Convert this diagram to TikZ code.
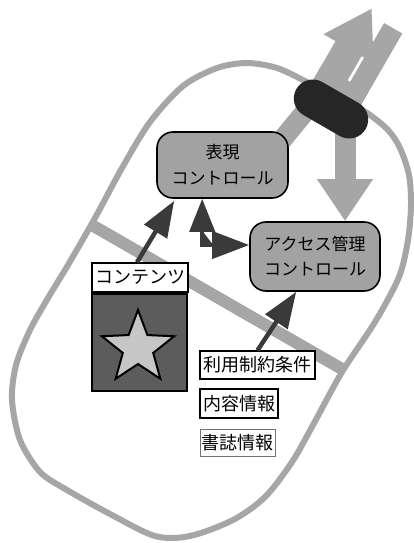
\documentclass[tikz,border=0pt]{standalone}
\usepackage{fontspec}
\newfontfamily\jp{Noto Sans CJK JP}
\usetikzlibrary{arrows.meta,shapes.misc,calc}
\pgfdeclarelayer{bg}
\pgfsetlayers{bg,main}
\definecolor{bandgray}{HTML}{A6A6A6}
\definecolor{nodegray}{HTML}{A2A2A2}
\definecolor{darkarrow}{HTML}{3A3A3A}
\definecolor{gatecol}{HTML}{262626}
\definecolor{boxdark}{HTML}{5C5C5C}
\definecolor{starfill}{HTML}{C6C6C6}
\begin{document}
\begin{tikzpicture}[x=1pt,y=-1pt,
  ctrl/.style={draw=black, line width=1.6pt, fill=nodegray, rounded corners=16pt,
    align=center, inner sep=0pt, font=\jp\fontsize{17}{26}\selectfont},
  tagbox/.style={draw=black, line width=1.3pt, fill=white, inner sep=0pt,
    font=\jp\fontsize{18}{20}\selectfont},
  darkarr/.style={draw=darkarrow, fill=darkarrow, line width=4.5pt,
    -{Triangle[length=36pt,width=26pt]}},
  elbowarr/.style={draw=darkarrow, fill=darkarrow, line width=4pt,
    {Triangle[length=33pt,width=25pt]}-{Triangle[length=37pt,width=27pt]}},
  bigarr/.style={draw=bandgray, fill=bandgray, line width=21pt,
    -{Triangle[length=42pt,width=53pt]}},
  outline/.style={draw=bandgray, line width=6pt},
  bandline/.style={draw=bandgray, line width=12pt}
]
\useasboundingbox (0,0) rectangle (413,543);

% nodes
\coordinate (gatec) at (331,109);
\node (hyogen) [ctrl, minimum width=131pt, minimum height=66pt] at (222.5,165) {表現\\コントロール};
\node (access) [ctrl, minimum width=130pt, minimum height=69pt, font=\jp\fontsize{17}{25}\selectfont] at (315,256.5) {アクセス管理\\コントロール};
\node (cont) [tagbox, minimum width=96pt, minimum height=29pt] at (140,277.5) {コンテンツ};
\node (starbox) [draw=black, line width=1.5pt, fill=boxdark, minimum width=95pt, minimum height=97pt, inner sep=0pt] at (139.5,342.5) {};
\node (riyo) [tagbox, minimum width=115pt, minimum height=28pt] at (257.5,365) {利用制約条件};
\node (naiyo) [tagbox, line width=2pt, minimum width=78pt, minimum height=29pt] at (239,403.5) {内容情報};
\node (shoshi) [tagbox, draw=black!55, line width=1pt, minimum width=75pt, minimum height=27pt] at (237.5,442.5) {書誌情報};

% star
\draw[fill=starfill, line width=2pt, line join=miter]
  plot[variable=\k, samples at={0,...,9}]
  ({138+(38-22*mod(\k,2))*cos(-90+36*\k)}, {348+(38-22*mod(\k,2))*sin(-90+36*\k)}) -- cycle;

% gate
\node (gate) [rounded rectangle, fill=gatecol, minimum width=80pt, minimum height=38pt, inner sep=0pt, rotate=-30] at (gatec) {};

% dark arrows
\draw[darkarr] ([xshift=-3pt]cont.north) -- ([xshift=18pt,yshift=-2pt]hyogen.south west);
\draw[elbowarr] ([xshift=46pt]hyogen.south west) |- ([yshift=11.5pt]access.west);
\draw[darkarr] (riyo.north) -- ([xshift=47pt]access.south west);

\begin{pgfonlayer}{bg}
  % outer outline
  \draw[outline] plot[smooth cycle] coordinates {
    (247,63) (277,68) (307,82) (337,97) (367,113) (388,130) (400,148) (409,175)
    (411,205) (408,240) (399,277) (375,322) (342,372) (313,425) (292,462)
    (265,497) (233,520) (190,536) (155,536) (110,514) (67,490) (40,472)
    (20,440) (12,400) (16,365) (30,330) (48,298) (68,265) (95,218) (122,168)
    (150,122) (183,86) (217,68)};
  % separator band
  \draw[bandline] (90,224) -- (342,369);
  % lower diagonal band
  \draw[draw=bandgray, line width=20pt] ([xshift=-12pt,yshift=-15pt]hyogen.north east) -- ([xshift=-13pt,yshift=13pt]gatec);
  % upper diagonal bands with arrow head
  \begin{scope}[shift={(gatec)}, rotate=60]
    \fill[bandgray] (5,-30) rectangle (65,0);
    \fill[bandgray] (5,3) rectangle (101,24);
    \fill[bandgray] (5,-30) rectangle (33,24);
    \fill[bandgray] (61,-44) -- (61,14) -- (107,-15) -- cycle;
  \end{scope}
  % big downward arrow
  \draw[bigarr] ([xshift=14pt]gatec) -- ([xshift=30pt]access.north);
\end{pgfonlayer}
\end{tikzpicture}
\end{document}
